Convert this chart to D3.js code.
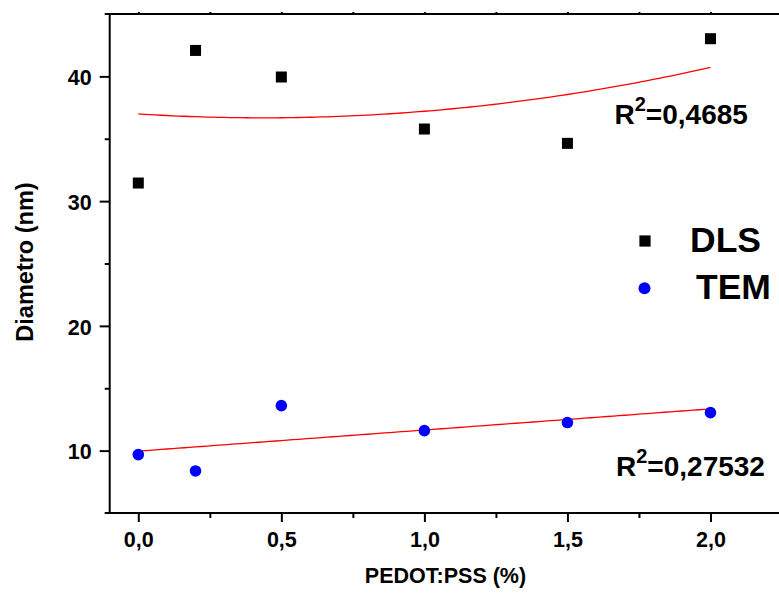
<!DOCTYPE html>
<html>
<head>
<meta charset="utf-8">
<script src="https://cdn.jsdelivr.net/npm/d3@7"></script>
<style>
  html, body { margin: 0; padding: 0; background: #fff; }
  svg { display: block; }
  text { font-family: "Liberation Sans", Arial, sans-serif; font-weight: bold; fill: #000; }
</style>
</head>
<body>
<svg id="chart" width="779" height="593"></svg>
<script>
// ---- data ----
const pedotPss = [0, 0.2, 0.5, 1.0, 1.5, 2.0];
const dlsDiameter = [31.45, 42.08, 39.95, 35.78, 34.63, 43.02];
const temDiameter = [9.68, 8.37, 13.61, 11.6, 12.25, 13.05];
const seriesNames = ["DLS", "TEM"];
const r2Labels = ["0,4685", "0,27532"];
const xMajorTicks = [0, 0.5, 1.0, 1.5, 2.0];
const xMinorTicks = [0.25, 0.75, 1.25, 1.75];
const yMajorTicks = [10, 20, 30, 40];
const yMinorTicks = [15, 25, 35];
const xTitle = "PEDOT:PSS (%)";
const yTitle = "Diametro (nm)";

// ---- least squares polynomial fit ----
function polyFit(xs, ys, deg) {
  const n = deg + 1;
  const A = Array.from({length: n}, () => new Array(n + 1).fill(0));
  for (let i = 0; i < n; i++) {
    for (let j = 0; j < n; j++) A[i][j] = d3.sum(xs, x => Math.pow(x, i + j));
    A[i][n] = d3.sum(xs, (x, k) => Math.pow(x, i) * ys[k]);
  }
  for (let c = 0; c < n; c++) {
    let p = c;
    for (let r = c + 1; r < n; r++) if (Math.abs(A[r][c]) > Math.abs(A[p][c])) p = r;
    [A[c], A[p]] = [A[p], A[c]];
    for (let r = 0; r < n; r++) {
      if (r === c) continue;
      const f = A[r][c] / A[c][c];
      for (let k = c; k <= n; k++) A[r][k] -= f * A[c][k];
    }
  }
  const coef = A.map((row, i) => row[n] / row[i]);
  return x => coef.reduce((s, a, i) => s + a * Math.pow(x, i), 0);
}

const svg = d3.select("#chart");
const x = d3.scaleLinear().domain([-0.1, 2.25]).range([109.7, 782]);
const y = d3.scaleLinear().domain([5, 45]).range([513, 14]);
const commaFmt = f => (d => d3.format(f)(d).replace(".", ","));

// ---- fit curves ----
const fitX = d3.range(0, 2.0001, 0.02);
const dlsFit = polyFit(pedotPss, dlsDiameter, 2);
const temFit = polyFit(pedotPss, temDiameter, 1);
const line = f => d3.line().x(d => x(d)).y(d => y(f(d)));
svg.append("path").attr("d", line(dlsFit)(fitX))
  .attr("fill", "none").attr("stroke", "#ff0000").attr("stroke-width", 1.3);
svg.append("path").attr("d", line(temFit)(fitX))
  .attr("fill", "none").attr("stroke", "#ff0000").attr("stroke-width", 1.3);

// ---- axes ----
const axisG = svg.append("g");
// bottom
const xMajor = axisG.append("g").attr("transform", `translate(0,${y(5)})`)
  .call(d3.axisBottom(x).tickValues(xMajorTicks).tickSize(9).tickPadding(10)
    .tickFormat(commaFmt(".1f")));
const xMinor = axisG.append("g").attr("transform", `translate(0,${y(5)})`)
  .call(d3.axisBottom(x).tickValues(xMinorTicks).tickSize(5).tickFormat(""));
// top (tiny ticks)
const xTop = axisG.append("g").attr("transform", `translate(0,${y(45)})`)
  .call(d3.axisTop(x).tickValues(xMajorTicks.concat(xMinorTicks)).tickSize(2).tickFormat(""));
// left
const yMajor = axisG.append("g").attr("transform", `translate(${x(-0.1)},0)`)
  .call(d3.axisLeft(y).tickValues(yMajorTicks).tickSize(10).tickPadding(8)
    .tickFormat(d3.format("d")));
const yMinor = axisG.append("g").attr("transform", `translate(${x(-0.1)},0)`)
  .call(d3.axisLeft(y).tickValues(yMinorTicks).tickSize(5).tickFormat(""));

axisG.selectAll(".domain").remove();
axisG.selectAll(".tick line").attr("stroke", "#000").attr("stroke-width", 2);
axisG.selectAll("text").attr("font-size", 21.5).attr("font-family", null).attr("fill", "#000");
yMajor.selectAll("text").attr("dy", "0.38em");

// axis lines
axisG.append("line").attr("x1", x(-0.1) - 5).attr("x2", 779).attr("y1", y(5)).attr("y2", y(5))
  .attr("stroke", "#000").attr("stroke-width", 2);
axisG.append("line").attr("x1", x(-0.1) - 5).attr("x2", 779).attr("y1", y(45)).attr("y2", y(45))
  .attr("stroke", "#000").attr("stroke-width", 2);
axisG.append("line").attr("x1", x(-0.1)).attr("x2", x(-0.1)).attr("y1", y(45)).attr("y2", y(5))
  .attr("stroke", "#000").attr("stroke-width", 2);

// titles
svg.append("text").attr("x", 445.5).attr("y", 582.5).attr("text-anchor", "middle")
  .attr("font-size", 21.5).text(xTitle);
svg.append("text").attr("transform", "translate(32.5,262) rotate(-90)").attr("text-anchor", "middle")
  .attr("font-size", 23.5).text(yTitle);

// ---- points ----
const sq = 11;
svg.append("g").selectAll("rect").data(pedotPss).join("rect")
  .attr("x", d => x(d) - sq / 2).attr("y", (d, i) => y(dlsDiameter[i]) - sq / 2)
  .attr("width", sq).attr("height", sq).attr("fill", "#000");
svg.append("g").selectAll("circle").data(pedotPss).join("circle")
  .attr("cx", d => x(d)).attr("cy", (d, i) => y(temDiameter[i])).attr("r", 5.8)
  .attr("fill", "#0000ff");

// ---- legend ----
svg.append("rect").attr("x", 645 - 5.6).attr("y", 241 - 5.6).attr("width", 11.2).attr("height", 11.2)
  .attr("fill", "#000");
svg.append("circle").attr("cx", 644.5).attr("cy", 288.3).attr("r", 6).attr("fill", "#0000ff");
svg.append("text").attr("x", 690).attr("y", 252.3).attr("font-size", 35.5).text(seriesNames[0]);
svg.append("text").attr("x", 696).attr("y", 299.3).attr("font-size", 35.5).text(seriesNames[1]);

// ---- R² labels ----
function r2(xp, yp, val) {
  const t = svg.append("text").attr("x", xp).attr("y", yp).attr("font-size", 28);
  t.append("tspan").text("R");
  t.append("tspan").attr("font-size", 20).attr("dy", -13).text("2");
  t.append("tspan").attr("dy", 13).text("=" + val);
}
r2(614.5, 123.5, r2Labels[0]);
r2(616, 475.5, r2Labels[1]);
</script>
</body>
</html>
